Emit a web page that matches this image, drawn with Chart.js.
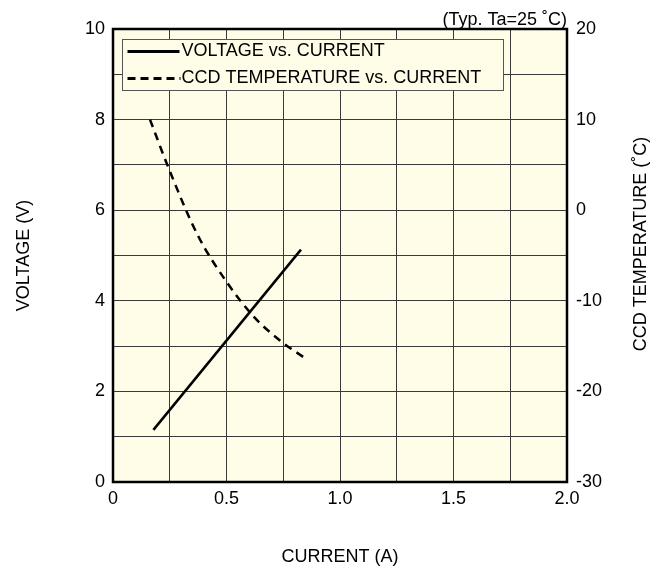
<!DOCTYPE html>
<html>
<head>
<meta charset="utf-8">
<script src="https://cdn.jsdelivr.net/npm/chart.js@4/dist/chart.umd.min.js"></script>
<style>
html,body{margin:0;padding:0;background:#fff;}
#wrap{width:668px;height:573px;position:relative;}
</style>
</head>
<body>
<div id="wrap"><canvas id="c" width="668" height="573"></canvas></div>
<script>
// ---- data ----
const voltageCurrent = [0.178, 0.828];
const voltageValues = [1.15, 5.13];
const tempCurrent = [0.163, 0.244, 0.372, 0.50, 0.622, 0.747, 0.838];
const tempValues = [10.0, 4.7, -2.7, -7.9, -11.8, -14.6, -16.2];
const xTickLabels = ['0', '0.5', '1.0', '1.5', '2.0'];
const yTickLabels = ['0', '2', '4', '6', '8', '10'];
const y2TickLabels = ['-30', '-20', '-10', '0', '10', '20'];
const seriesNames = ['VOLTAGE vs. CURRENT', 'CCD TEMPERATURE vs. CURRENT'];
const titleText = '(Typ. Ta=25 \u02DAC)';
const xTitle = 'CURRENT (A)';
const yTitle = 'VOLTAGE (V)';
const y2Title = 'CCD TEMPERATURE (\u02DAC)';

const FONT = '"Liberation Sans", Arial, Helvetica, sans-serif';
Chart.defaults.font.family = FONT;
Chart.defaults.font.size = 18;
Chart.defaults.color = '#000';

const bgPlugin = {
  id: 'bg',
  beforeDraw(chart) {
    const {ctx, chartArea: a} = chart;
    ctx.save();
    ctx.fillStyle = '#FFFCE8';
    ctx.fillRect(a.left, a.top, a.right - a.left, a.bottom - a.top);
    ctx.restore();
  },
  afterDatasetsDraw(chart) {
    const {ctx, chartArea: a} = chart;
    ctx.save();
    ctx.strokeStyle = '#000';
    ctx.lineWidth = 2.5;
    ctx.strokeRect(a.left, a.top, a.right - a.left, a.bottom - a.top);
    // legend
    const lx = a.left + 9.5, ly = a.top + 10.5, lw = 381, lh = 51;
    ctx.fillStyle = '#FFFCE8';
    ctx.fillRect(lx, ly, lw, lh);
    ctx.lineWidth = 1;
    ctx.strokeStyle = '#555';
    ctx.strokeRect(lx, ly, lw, lh);
    ctx.strokeStyle = '#000';
    ctx.lineWidth = 3;
    ctx.beginPath();
    ctx.moveTo(lx + 5, ly + 12); ctx.lineTo(lx + 57, ly + 12);
    ctx.stroke();
    ctx.setLineDash([8, 5]);
    ctx.beginPath();
    ctx.moveTo(lx + 5, ly + 39); ctx.lineTo(lx + 58, ly + 39);
    ctx.stroke();
    ctx.setLineDash([]);
    ctx.fillStyle = '#000';
    ctx.font = '18px ' + FONT;
    ctx.textBaseline = 'middle';
    ctx.textAlign = 'left';
    ctx.fillText(seriesNames[0], lx + 59, ly + 12);
    ctx.fillText(seriesNames[1], lx + 59, ly + 39);
    // title
    ctx.textAlign = 'right';
    ctx.fillText(titleText, a.right, 20);
    // right axis title (reads bottom to top)
    ctx.save();
    ctx.translate(641, 244);
    ctx.rotate(-Math.PI / 2);
    ctx.textAlign = 'center';
    ctx.fillText(y2Title, 0, 0);
    ctx.restore();
    ctx.restore();
  }
};

const chart = new Chart(document.getElementById('c'), {
  type: 'scatter',
  data: {
    datasets: [
      {
        label: seriesNames[0],
        data: voltageCurrent.map((x, i) => ({x, y: voltageValues[i]})),
        showLine: true,
        borderColor: '#000',
        borderWidth: 2.5,
        pointRadius: 0,
        yAxisID: 'y'
      },
      {
        label: seriesNames[1],
        data: tempCurrent.map((x, i) => ({x, y: tempValues[i]})),
        showLine: true,
        borderColor: '#000',
        borderWidth: 2.5,
        borderDash: [8, 6],
        pointRadius: 0,
        cubicInterpolationMode: 'monotone',
        yAxisID: 'y2'
      }
    ]
  },
  options: {
    responsive: false,
    animation: false,
    layout: {padding: {top: 29, left: 0, right: 0, bottom: 0}},
    plugins: {legend: {display: false}, tooltip: {enabled: false}},
    scales: {
      x: {
        type: 'linear', position: 'bottom', min: 0, max: 2,
        ticks: {
          stepSize: 0.25, padding: 6, maxRotation: 0, autoSkip: false,
          callback: (v) => {
            const i = Math.round(v / 0.5);
            return Math.abs(v - i * 0.5) < 1e-6 ? xTickLabels[i] : '';
          }
        },
        grid: {color: '#3a3a3a', lineWidth: 1, drawTicks: false},
        border: {display: false},
        title: {display: true, text: xTitle, font: {size: 18}, padding: {top: 0, bottom: 5}},
        afterFit: (s) => { s.height = 91; }
      },
      y: {
        type: 'linear', position: 'left', min: 0, max: 10,
        ticks: {
          stepSize: 1, padding: 8, autoSkip: false,
          callback: (v) => (Math.round(v) % 2 === 0 ? yTickLabels[Math.round(v) / 2] : '')
        },
        grid: {color: '#3a3a3a', lineWidth: 1, drawTicks: false},
        border: {display: false},
        title: {display: true, text: yTitle, font: {size: 18}, padding: {top: 13, bottom: 0}},
        afterFit: (s) => { s.width = 113; }
      },
      y2: {
        type: 'linear', position: 'right', min: -30, max: 20,
        ticks: {
          stepSize: 10, padding: 9, autoSkip: false,
          callback: (v) => y2TickLabels[Math.round((v + 30) / 10)]
        },
        grid: {display: false, drawTicks: false},
        border: {display: false},
        title: {display: false},
        afterFit: (s) => { s.width = 101; }
      }
    }
  },
  plugins: [bgPlugin]
});
</script>
</body>
</html>
